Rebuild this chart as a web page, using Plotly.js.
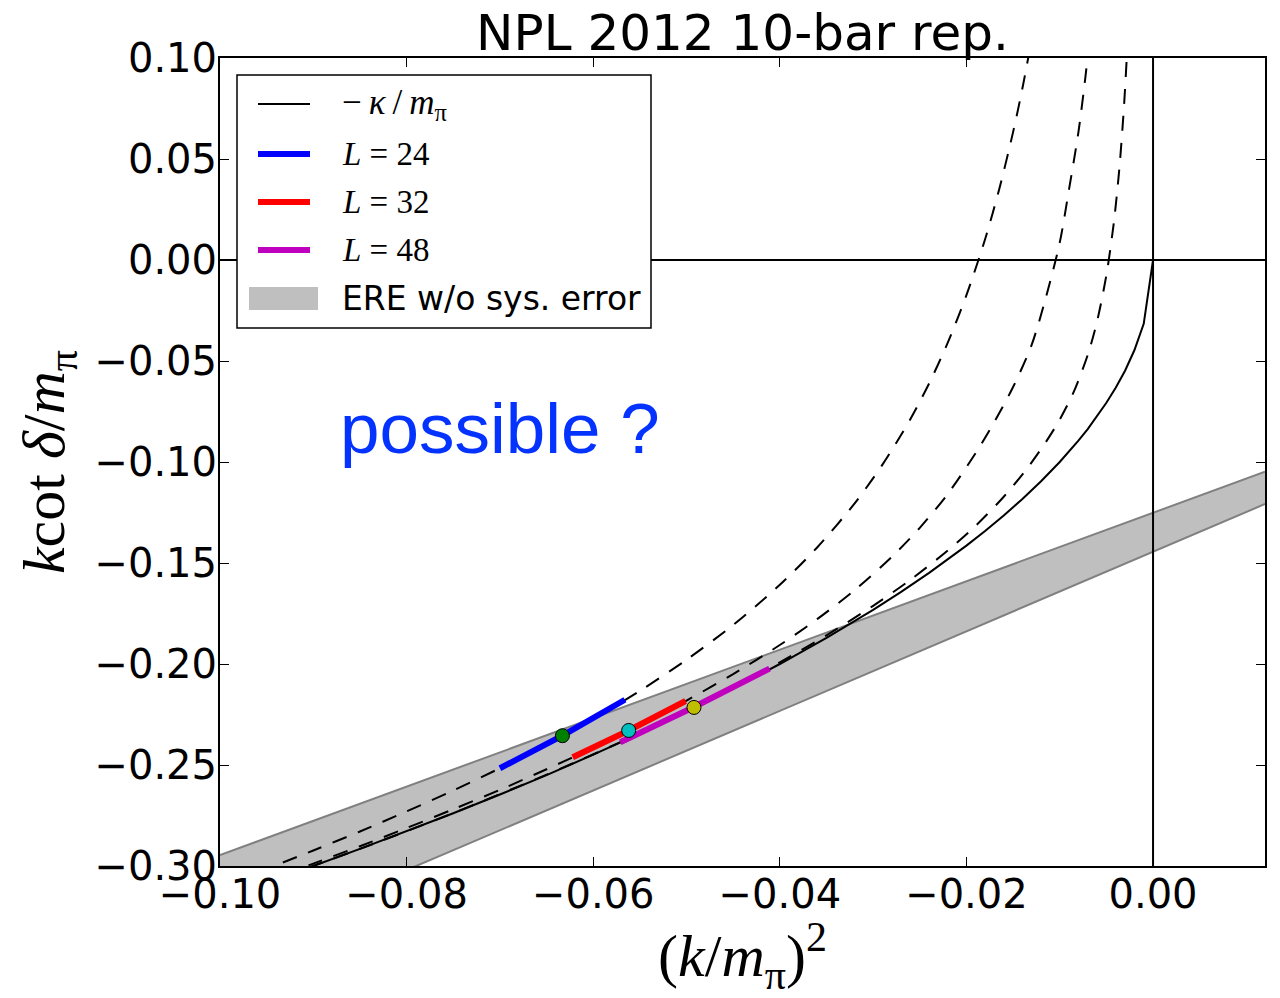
<!DOCTYPE html>
<html>
<head>
<meta charset="utf-8">
<script src="https://cdn.plot.ly/plotly-3.0.1.min.js"></script>
<style>html,body{margin:0;padding:0;background:#fff;}#chart{width:1280px;height:998px;}</style>
</head>
<body>
<div id="chart"></div>
<script>
// ---- data ----
// solid curve: -kappa/m_pi
const solidX = [-0.100,-0.095,-0.090,-0.085,-0.080,-0.075,-0.070,-0.065,-0.060,-0.055,-0.050,-0.045,-0.040,-0.035,-0.030,-0.027,-0.024,-0.022,-0.020,-0.018,-0.016,-0.014,-0.012,-0.010,-0.009,-0.008,-0.007,-0.006,-0.005,-0.004,-0.003,-0.002,-0.001,0.000];
const solidY = [-0.3162,-0.3082,-0.3000,-0.2915,-0.2828,-0.2739,-0.2646,-0.2550,-0.2449,-0.2345,-0.2236,-0.2121,-0.2000,-0.1871,-0.1732,-0.1643,-0.1549,-0.1483,-0.1414,-0.1342,-0.1265,-0.1183,-0.1095,-0.1000,-0.0949,-0.0894,-0.0837,-0.0775,-0.0707,-0.0632,-0.0548,-0.0447,-0.0316,0.0000];
// dashed curves (L=24, 32, 48)
const dashAX = [-0.096,-0.090,-0.085,-0.080,-0.075,-0.070,-0.065,-0.060,-0.055,-0.050,-0.045,-0.040,-0.036,-0.032,-0.029,-0.026,-0.024,-0.022,-0.020,-0.018,-0.0165,-0.015,-0.014,-0.013];
const dashAY = [-0.3032,-0.2923,-0.2829,-0.2730,-0.2626,-0.2516,-0.2398,-0.2271,-0.2133,-0.1979,-0.1807,-0.1608,-0.1423,-0.1206,-0.1013,-0.0787,-0.0611,-0.0409,-0.0174,0.0103,0.0348,0.0633,0.0850,0.1095];
const dashBX = [-0.096,-0.090,-0.085,-0.080,-0.075,-0.070,-0.065,-0.060,-0.055,-0.050,-0.045,-0.040,-0.036,-0.032,-0.028,-0.025,-0.022,-0.019,-0.017,-0.015,-0.013,-0.0115,-0.010,-0.009,-0.008,-0.0072,-0.0066];
const dashBY = [-0.3089,-0.2988,-0.2902,-0.2812,-0.2719,-0.2623,-0.2521,-0.2415,-0.2302,-0.2181,-0.2050,-0.1906,-0.1778,-0.1635,-0.1470,-0.1326,-0.1158,-0.0955,-0.0801,-0.0629,-0.0419,-0.0188,0.0086,0.0351,0.0632,0.0925,0.1193];
const dashCX = [-0.096,-0.085,-0.075,-0.065,-0.055,-0.045,-0.040,-0.035,-0.030,-0.026,-0.022,-0.019,-0.016,-0.0135,-0.0115,-0.010,-0.0085,-0.007,-0.006,-0.005,-0.0042,-0.0036,-0.0031,-0.0027];
const dashCY = [-0.3098,-0.2915,-0.2738,-0.2548,-0.2343,-0.2116,-0.1992,-0.1858,-0.1712,-0.1583,-0.1438,-0.1315,-0.1172,-0.1032,-0.0902,-0.0790,-0.0653,-0.0470,-0.0304,-0.0075,0.0186,0.0459,0.0770,0.1103];
// coloured segments
const l24X = [-0.0700,-0.0633,-0.0566];
const l24Y = [-0.2516,-0.2355,-0.2177];
const l32X = [-0.0622,-0.0562,-0.0501];
const l32Y = [-0.2462,-0.2329,-0.2183];
const l48X = [-0.0571,-0.0492,-0.0411];
const l48Y = [-0.2387,-0.2213,-0.2023];
// markers
const ptX = [-0.0633,-0.0562,-0.0492];
const ptY = [-0.2355,-0.2329,-0.2215];
const ptColors = ['#008000','#00bfbf','#bfbf00'];
// ERE band
const bandX = [-0.100, 0.012];
const bandLow = [-0.3414, -0.1208];
const bandHigh = [-0.2946, -0.1048];
// ticks
const xTicks = [-0.10,-0.08,-0.06,-0.04,-0.02,0.00];
const yTicks = [-0.30,-0.25,-0.20,-0.15,-0.10,-0.05,0.00,0.05,0.10];

const dashStyle = '15px,12px';
const dashLine = {color:'#000', width:2, dash:dashStyle, shape:'spline', smoothing:0.8};
const traces = [
  {x: bandX, y: bandLow, mode:'lines', line:{color:'#808080', width:2}, showlegend:false, hoverinfo:'skip'},
  {x: bandX, y: bandHigh, mode:'lines', fill:'tonexty', fillcolor:'#bfbfbf', line:{color:'#808080', width:2}, name:'ERE w/o sys. error', showlegend:false},
  {x: solidX, y: solidY, mode:'lines', line:{color:'#000', width:2}, name:'−κ/mπ', showlegend:false},
  {x: dashAX, y: dashAY, mode:'lines', line:dashLine, showlegend:false},
  {x: dashBX, y: dashBY, mode:'lines', line:dashLine, showlegend:false},
  {x: dashCX, y: dashCY, mode:'lines', line:dashLine, showlegend:false},
  {x: l24X, y: l24Y, mode:'lines', line:{color:'#0000ff', width:6}, name:'L=24', showlegend:false},
  {x: l32X, y: l32Y, mode:'lines', line:{color:'#ff0000', width:6}, name:'L=32', showlegend:false},
  {x: l48X, y: l48Y, mode:'lines', line:{color:'#bf00bf', width:6}, name:'L=48', showlegend:false},
  {x: ptX, y: ptY, mode:'markers', marker:{size:14, color:ptColors, line:{color:'#000', width:1}}, showlegend:false}
];

// legend (paper coordinates)
const px = v => (v-220)/1045, py = v => (866-v)/808;
const legRows = [104,154,202,250,298];
const legShapes = [
  {type:'rect', xref:'paper', yref:'paper', x0:px(237), x1:px(651), y0:py(328), y1:py(75), fillcolor:'#fff', line:{color:'#000', width:1.5}, layer:'above'},
  {type:'line', xref:'paper', yref:'paper', x0:px(258), x1:px(310), y0:py(legRows[0]), y1:py(legRows[0]), line:{color:'#000', width:2}, layer:'above'},
  {type:'line', xref:'paper', yref:'paper', x0:px(258), x1:px(310), y0:py(legRows[1]), y1:py(legRows[1]), line:{color:'#0000ff', width:6}, layer:'above'},
  {type:'line', xref:'paper', yref:'paper', x0:px(258), x1:px(310), y0:py(legRows[2]), y1:py(legRows[2]), line:{color:'#ff0000', width:6}, layer:'above'},
  {type:'line', xref:'paper', yref:'paper', x0:px(258), x1:px(310), y0:py(legRows[3]), y1:py(legRows[3]), line:{color:'#bf00bf', width:6}, layer:'above'},
  {type:'rect', xref:'paper', yref:'paper', x0:px(249), x1:px(318), y0:py(310), y1:py(287), fillcolor:'#bfbfbf', line:{width:0}, layer:'above'}
];
const legTexts = ['−\u2009<i>κ</i>\u2009/\u2009<i>m</i><sub>π</sub>','<i>L</i> = 24','<i>L</i> = 32','<i>L</i> = 48','ERE w/o sys. error'];
const legAnn = legTexts.map((t,i)=>({
  xref:'paper', yref:'paper', x:px(340), y:py(legRows[i]), xanchor:'left', yanchor:'middle', showarrow:false, text:t,
  font: i===0 ? {family:'Liberation Serif', size:35, color:'#000'} : (i<4 ? {family:'Liberation Serif', size:33, color:'#000'} : {family:'DejaVu Sans', size:33, color:'#000'})
}));

const layout = {
  width:1280, height:998,
  margin:{l:220, r:15, t:58, b:132, pad:0},
  paper_bgcolor:'#fff', plot_bgcolor:'#fff',
  showlegend:false,
  title:{text:'NPL 2012 10-bar rep.', font:{family:'DejaVu Sans', size:50, color:'#000'}, x:0.5, xref:'paper', xanchor:'center', y:1, yref:'paper', yanchor:'bottom', pad:{b:8}},
  xaxis:{range:[-0.1,0.012], tickvals:xTicks, tickformat:'.2f', ticks:'inside', ticklen:9, tickwidth:1, tickcolor:'#000',
    showline:true, linecolor:'#000', linewidth:2, mirror:'ticks', showgrid:false, zeroline:false, ticklabelstandoff:-8,
    tickfont:{family:'DejaVu Sans', size:40, color:'#000'},
    title:{text:'(<i>k</i>/<i>m</i><sub>π</sub>)<sup>2</sup>', font:{family:'Liberation Serif', size:60, color:'#000'}, standoff:12}},
  yaxis:{range:[-0.3,0.1], tickvals:yTicks, tickformat:'.2f', ticks:'inside', ticklen:9, tickwidth:1, tickcolor:'#000',
    showline:true, linecolor:'#000', linewidth:2, mirror:'ticks', showgrid:false, zeroline:false, ticklabelstandoff:-7,
    tickfont:{family:'DejaVu Sans', size:40, color:'#000'},
    title:{text:'<i>k</i>cot <i>δ</i>/<i>m</i><sub>π</sub>', font:{family:'Liberation Serif', size:60, color:'#000'}, standoff:10}},
  shapes:[
    {type:'line', xref:'x', yref:'paper', x0:0, x1:0, y0:0, y1:1, line:{color:'#000', width:2}, layer:'above'},
    {type:'line', xref:'paper', yref:'y', x0:0, x1:1, y0:0, y1:0, line:{color:'#000', width:2}, layer:'above'}
  ].concat(legShapes),
  annotations:[
    {xref:'paper', yref:'paper', x:px(338), y:py(429), xanchor:'left', yanchor:'middle', showarrow:false, text:'possible ?',
     font:{family:'Liberation Sans', size:71, color:'#0433ff'}}
  ].concat(legAnn)
};
Plotly.newPlot('chart', traces, layout, {displayModeBar:false, staticPlot:true});
</script>
</body>
</html>
